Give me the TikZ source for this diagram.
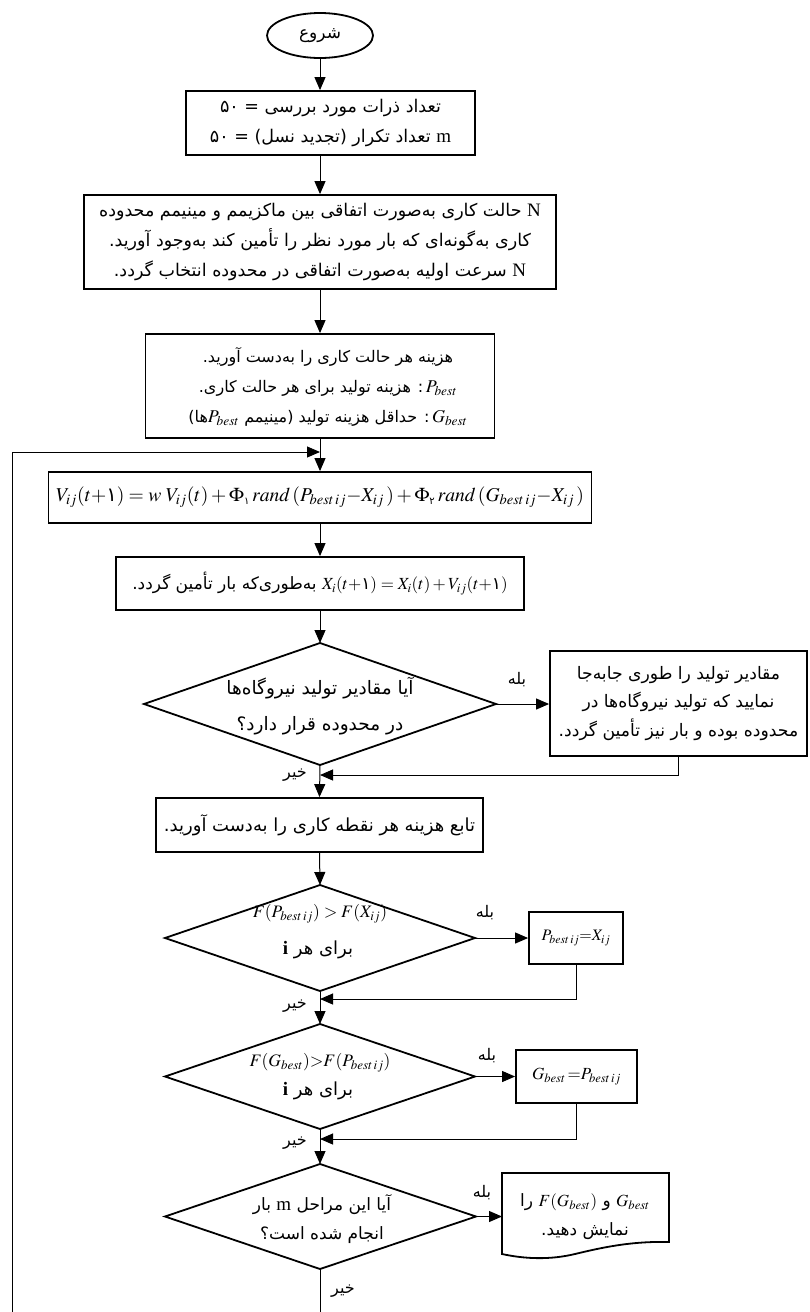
\documentclass[tikz,border=0pt]{standalone}
\usepackage{mathptmx}
\usepackage{fontspec}
\setmainfont{Liberation Serif}
\newfontfamily\fa[Script=Arabic]{DejaVu Sans}
\usetikzlibrary{arrows.meta,shapes.geometric}
\TeXXeTstate=1
\newcommand\RL[1]{\beginR#1\endR}
\newcommand\LR[1]{\beginL#1\endL}
\newcommand\lat[1]{{\rmfamily\fontsize{19}{20}\selectfont #1}}
\newcommand\mth[2]{\LR{{\rmfamily\fontsize{#1}{20}\selectfont $#2$}}}
\newcommand\fd[1]{\mbox{\fa #1}}
\newcommand\fds[1]{\mbox{\fa\fontsize{10}{10}\selectfont #1}}
\tikzset{
  boxline/.style={line width=1.8pt},
  box/.style={draw, boxline, rectangle, inner sep=0pt, align=center, font=\fa\fontsize{17.5}{30}\selectfont},
  startnode/.style={draw, boxline, ellipse, inner sep=0pt, minimum width=106pt, minimum height=45pt, font=\fa\fontsize{17}{18}\selectfont},
  txt/.style={inner sep=0pt, align=center, font=\fa\fontsize{17.5}{30}\selectfont},
  mathbox/.style={draw, boxline, rectangle, inner sep=0pt, align=center, font=\rmfamily\fontsize{19.6}{20}\selectfont},
  conn/.style={line width=1pt, -{Triangle[length=13pt,width=11pt]}},
  plain/.style={line width=1pt},
  lbl/.style={inner sep=0pt, font=\fa\fontsize{16}{18}\selectfont},
}
\begin{document}
\begin{tikzpicture}[x=1pt,y=-1pt]
\useasboundingbox (0,0) rectangle (810,1312);

% main column
\node[startnode] (start) at (320,35.5) {\RL{شروع}};
\node[box, minimum width=289pt, minimum height=64pt] (b1) at (330.5,123)
  {\RL{تعداد ذرات مورد بررسی = ۵۰}\\ \RL{\lat{m} تعداد تکرار (تجدید نسل) = ۵۰}};
\node[box, minimum width=472pt, minimum height=94pt] (b2) at (320,242)
  {\RL{\lat{N} حالت کاری به‌صورت اتفاقی بین ماکزیمم و مینیمم محدوده}\\
   \RL{کاری به‌گونه‌ای که بار مورد نظر را تأمین کند به‌وجود آورید.}\\
   \RL{\lat{N} سرعت اولیه به‌صورت اتفاقی در محدوده انتخاب گردد.}};
\node[box, minimum width=349pt, minimum height=104pt] (b3) at (320,386) {};
\node[txt, font=\fa\fontsize{16}{30}\selectfont] (b3x) at (328,387)
  {\RL{هزینه هر حالت کاری را به‌دست آورید.}\\
   \RL{\mth{18}{P_{best}}\,: هزینه تولید برای هر حالت کاری.}\\
   \RL{\mth{18}{G_{best}}\,: حداقل هزینه تولید (مینیمم \mth{18}{P_{best}}ها)}};
\node[mathbox, minimum width=543pt, minimum height=51pt] (b4) at (320,497.5)
  {$V_{ij}(t{+}\fd{۱}) = w\;V_{ij}(t) + \Phi_{\fds{۱}}\,rand\,(P_{best\,ij}{-}X_{ij}\,) + \Phi_{\fds{۲}}\,rand\,(G_{best\,ij}{-}X_{ij}\,)$};
\node[box, minimum width=408pt, minimum height=53pt, font=\fa\fontsize{17}{30}\selectfont] (b5) at (320,583.5)
  {\RL{\mth{17}{X_i(t{+}\fd{۱}) = X_i(t) + V_{ij}(t{+}\fd{۱})} به‌طوری‌که بار تأمین گردد.}};

% decision 1
\coordinate (d1t) at (320,643); \coordinate (d1r) at (496,704);
\coordinate (d1b) at (320,765); \coordinate (d1l) at (144,704);
\draw[boxline] (d1t) -- (d1r) -- (d1b) -- (d1l) -- cycle;
\node[txt, font=\fa\fontsize{18.5}{36}\selectfont] (d1x) at (320,706)
  {\RL{آیا مقادیر تولید نیروگاه‌ها}\\ \RL{در محدوده قرار دارد؟}};
\node[box, minimum width=257pt, minimum height=105pt, font=\fa\fontsize{17.2}{28.5}\selectfont] (s1) at (678.5,703.5)
  {\RL{مقادیر تولید را طوری جابه‌جا}\\ \RL{نمایید که تولید نیروگاه‌ها در}\\ \RL{محدوده بوده و بار نیز تأمین گردد.}};

\node[box, minimum width=327pt, minimum height=54pt, font=\fa\fontsize{18}{30}\selectfont] (b6) at (319.5,825)
  {\RL{تابع هزینه هر نقطه کاری را به‌دست آورید.}};

% decision 2
\coordinate (d2t) at (320,885); \coordinate (d2r) at (475,938);
\coordinate (d2b) at (320,991); \coordinate (d2l) at (165,938);
\draw[boxline] (d2t) -- (d2r) -- (d2b) -- (d2l) -- cycle;
\node[txt, font=\rmfamily\fontsize{17.5}{19}\selectfont] (d2f) at (320,914) {$F(P_{best\,ij}) > F(X_{ij})$};
\node[txt, font=\fa\fontsize{18}{20}\selectfont] (d2x) at (318,950) {\RL{برای هر \lat{\textbf{i}}}};
\node[box, minimum width=94pt, minimum height=52pt, font=\rmfamily\fontsize{16}{19}\selectfont] (s2) at (576,938)
  {$P_{best\,ij}{=}X_{ij}$};

% decision 3
\coordinate (d3t) at (320,1024); \coordinate (d3r) at (475,1076.5);
\coordinate (d3b) at (320,1129); \coordinate (d3l) at (165,1076.5);
\draw[boxline] (d3t) -- (d3r) -- (d3b) -- (d3l) -- cycle;
\node[txt, font=\rmfamily\fontsize{17.5}{19}\selectfont] (d3f) at (320,1063) {$F(G_{best}){>}F(P_{best\,ij})$};
\node[txt, font=\fa\fontsize{18}{20}\selectfont] (d3x) at (318,1091) {\RL{برای هر \lat{\textbf{i}}}};
\node[box, minimum width=121pt, minimum height=53pt, font=\rmfamily\fontsize{17}{19}\selectfont] (s3) at (576.5,1076.5)
  {$G_{best}\,{=}P_{best\,ij}$};

% decision 4
\coordinate (d4t) at (320,1164); \coordinate (d4r) at (476,1216.5);
\coordinate (d4b) at (320,1269); \coordinate (d4l) at (165,1216.5);
\draw[boxline] (d4t) -- (d4r) -- (d4b) -- (d4l) -- cycle;
\node[txt, font=\fa\fontsize{17}{29}\selectfont] (d4x) at (322,1219)
  {\RL{آیا این مراحل \lat{m} بار}\\ \RL{انجام شده است؟}};

% document shape
\draw[boxline] (502,1173) -- (669,1173) -- (669,1242)
  .. controls (630,1241) and (600,1248) .. (575,1254)
  .. controls (550,1260) and (525,1259) .. (502,1254) -- cycle;
\coordinate (docW) at (502,1216.5);
\node[txt, font=\fa\fontsize{17}{29}\selectfont] (docx) at (585,1217)
  {\RL{\mth{17}{G_{best}} و \mth{17}{F(G_{best})} را}\\ \RL{نمایش دهید.}};

% connectors
\draw[conn] (start.south) -- (start.south |- b1.north);
\draw[conn] (b2.north |- b1.south) -- (b2.north);
\draw[conn] (b2.south) -- (b3.north);
\draw[conn] (b3.south) -- (b4.north);
\draw[conn] (b4.south) -- (b5.north);
\draw[conn] (b5.south) -- (d1t);
\draw[conn] (d1b) -- (b6.north);
\draw[conn] (b6.south) -- (d2t);
\draw[conn] (d2b) -- (d3t);
\draw[conn] (d3b) -- (d4t);

\draw[conn] (d1r) -- (d1r -| s1.west);
\draw[conn] (d2r) -- (s2.west);
\draw[conn] (d3r) -- (s3.west);
\draw[conn] (d4r) -- (docW);

\coordinate (r1) at (320,775);
\coordinate (r2) at (320,999);
\coordinate (r3) at (320,1139);
\draw[conn] (s1.south) |- (r1);
\draw[conn] (s2.south) |- (r2);
\draw[conn] (s3.south) |- (r3);

% loop back
\coordinate (bottomR) at (320,1312);
\coordinate (bottomL) at (12,1312);
\coordinate (loopTop) at (12,452);
\coordinate (loopJoin) at (320,452);
\draw[plain] (d4b) -- (bottomR);
\draw[conn] (bottomL) -- (loopTop) -- (loopJoin);

% labels
\node[lbl] (y1) at (517,680) {\RL{بله}};
\node[lbl] (y2) at (485,913) {\RL{بله}};
\node[lbl] (y3) at (487,1056) {\RL{بله}};
\node[lbl] (y4) at (482,1193) {\RL{بله}};
\node[lbl] (n1) at (295,775) {\RL{خیر}};
\node[lbl] (n2) at (295,1006) {\RL{خیر}};
\node[lbl] (n3) at (295,1143) {\RL{خیر}};
\node[lbl] (n4) at (343,1291) {\RL{خیر}};
\end{tikzpicture}
\end{document}
